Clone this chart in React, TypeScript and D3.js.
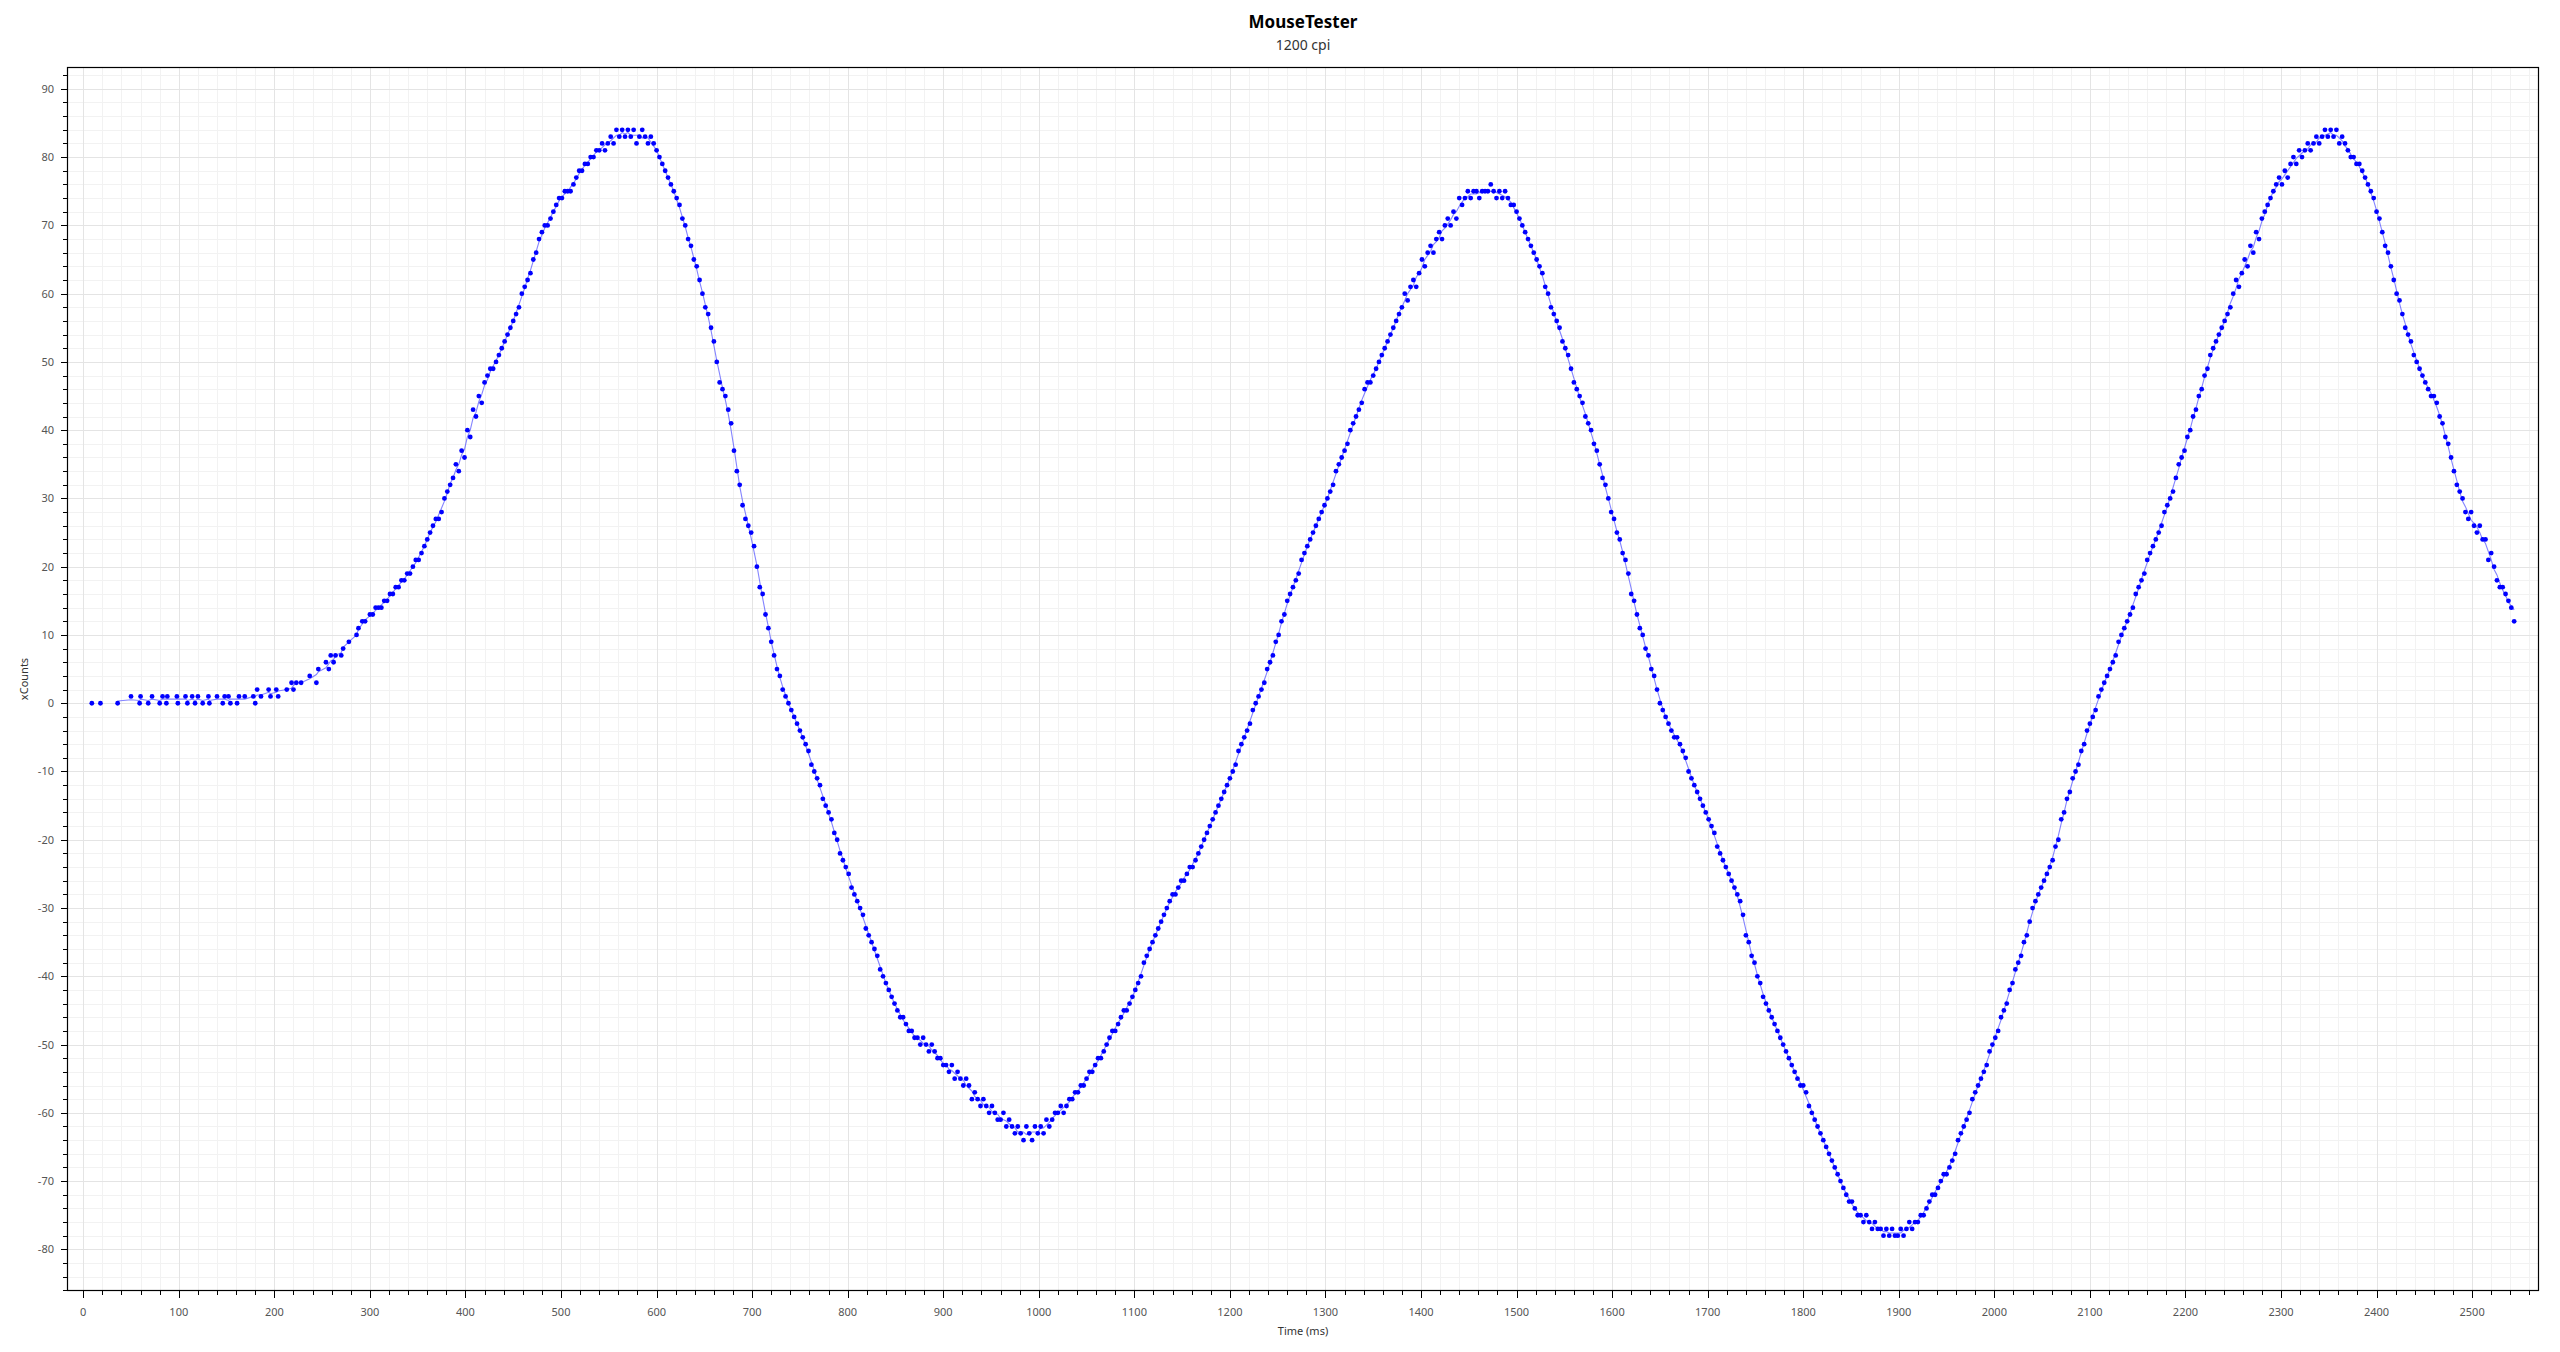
import React from "react";
import * as d3 from "d3";

const chartTitle = "MouseTester";
const chartSubtitle = "1200 cpi";
const xAxisTitle = "Time (ms)";
const yAxisTitle = "xCounts";

const xDomain = [-17, 2570];
const yDomain = [-86.1, 93.2];
const xMajorTicks = d3.range(0, 2501, 100);
const xMinorTicks = d3.range(0, 2561, 20);
const yMajorTicks = d3.range(-80, 91, 10);
const yMinorTicks = d3.range(-86, 93, 2);

// early samples (irregular timestamps, ms)
const earlyTimes = [9,18,36,50,59,60,68,72,80,83,87,88,98,99,107,109,114,117,120,125,131,132,140,146,148,152,154,161,163,169,178,180,182,186,194,196,202,204,213,218,220,223,228,237,244,246,254,257,259,262,264,270,272,278,286,288,292,295];
const earlyCounts = [0,0,0,1,0,1,0,1,0,1,0,1,1,0,1,0,1,0,1,0,1,0,1,0,1,1,0,0,1,1,1,0,2,1,2,1,2,1,2,3,2,3,3,4,3,5,6,5,7,6,7,7,8,9,10,11,12,12];

// main samples: each row starts at mainStart + 30*row ms, one sample every 3 ms
const mainStart = 300;
const rowSpan = 30;
const sampleStep = 3;
const mainCounts = [
  [13,13,14,14,14,15,15,16,16,17],
  [17,18,18,19,19,20,21,21,22,23],
  [24,25,26,27,27,28,30,31,32,33],
  [35,34,37,36,40,39,43,42,45,44],
  [47,48,49,49,50,51,52,53,54,55],
  [56,57,58,60,61,62,63,65,66,68],
  [69,70,70,71,72,73,74,74,75,75],
  [75,76,77,78,78,79,79,80,80,81],
  [81,82,81,82,83,82,84,83,84,83],
  [84,83,84,82,83,84,83,82,83,82],
  [81,80,79,78,77,76,75,74,73,71],
  [70,68,67,65,64,62,60,58,57,55],
  [53,50,47,46,45,43,41,37,34,32],
  [29,27,26,25,23,20,17,16,13,11],
  [9,7,5,4,2,1,0,-1,-2,-3],
  [-4,-5,-6,-7,-9,-10,-11,-12,-14,-15],
  [-16,-17,-19,-20,-22,-23,-24,-25,-27,-28],
  [-29,-30,-31,-33,-34,-35,-36,-37,-39,-40],
  [-41,-42,-43,-44,-45,-46,-46,-47,-48,-48],
  [-49,-49,-50,-49,-50,-51,-50,-51,-52,-52],
  [-53,-53,-54,-53,-55,-54,-55,-56,-55,-56],
  [-58,-57,-58,-59,-58,-59,-60,-59,-60,-61],
  [-61,-60,-62,-61,-62,-63,-62,-63,-64,-62],
  [-63,-64,-62,-63,-62,-63,-61,-62,-61,-60],
  [-60,-59,-60,-59,-58,-58,-57,-57,-56,-56],
  [-55,-54,-54,-53,-52,-52,-51,-50,-49,-48],
  [-48,-47,-46,-45,-45,-44,-43,-42,-41,-40],
  [-38,-37,-36,-35,-34,-33,-32,-31,-30,-29],
  [-28,-28,-27,-26,-26,-25,-24,-24,-23,-22],
  [-21,-20,-19,-18,-17,-16,-15,-14,-13,-12],
  [-11,-10,-9,-7,-6,-5,-4,-3,-1,0],
  [1,2,3,5,6,7,9,10,12,13],
  [15,16,17,18,19,21,22,23,24,25],
  [26,27,28,29,30,31,32,34,35,36],
  [37,38,40,41,42,43,44,46,47,47],
  [48,49,50,51,52,53,54,55,56,57],
  [58,60,59,61,62,61,63,65,64,66],
  [67,66,68,69,68,70,71,70,72,71],
  [74,73,74,75,74,75,75,74,75,75],
  [75,76,75,74,75,74,75,74,73,73],
  [72,71,70,69,68,67,66,65,64,63],
  [61,60,58,57,56,55,53,52,51,49],
  [47,46,45,44,42,41,40,38,37,35],
  [33,32,30,28,27,25,24,22,21,19],
  [16,15,13,11,10,8,7,5,4,2],
  [0,-1,-2,-3,-4,-5,-5,-6,-7,-8],
  [-10,-11,-12,-13,-14,-15,-16,-17,-18,-19],
  [-21,-22,-23,-24,-25,-26,-27,-28,-29,-31],
  [-34,-35,-37,-38,-40,-41,-43,-44,-45,-46],
  [-47,-48,-49,-50,-51,-52,-53,-54,-55,-56],
  [-56,-57,-59,-60,-61,-62,-63,-64,-65,-66],
  [-67,-68,-69,-70,-71,-72,-73,-73,-74,-75],
  [-75,-76,-75,-76,-77,-76,-77,-77,-78,-77],
  [-78,-77,-78,-78,-77,-78,-77,-76,-77,-76],
  [-76,-75,-75,-74,-73,-72,-72,-71,-70,-69],
  [-69,-68,-67,-66,-64,-63,-62,-61,-60,-58],
  [-57,-56,-55,-54,-53,-51,-50,-49,-48,-46],
  [-45,-44,-42,-41,-39,-38,-37,-35,-34,-32],
  [-30,-29,-28,-27,-26,-25,-24,-23,-21,-20],
  [-17,-16,-14,-13,-11,-10,-9,-7,-6,-4],
  [-3,-2,-1,1,2,3,4,5,6,7],
  [9,10,11,12,13,14,16,17,18,19],
  [21,22,23,24,25,26,28,29,30,31],
  [33,35,36,37,39,40,42,43,45,46],
  [48,49,51,52,53,54,55,56,57,58],
  [60,62,61,63,65,64,67,66,69,68],
  [71,72,73,74,75,76,77,76,78,77],
  [79,80,79,81,80,81,82,81,82,83],
  [82,83,84,83,84,83,84,82,83,82],
  [81,80,80,79,79,78,77,76,75,74],
  [72,71,69,67,66,64,62,60,59,57],
  [55,54,53,51,50,49,48,47,46,45],
  [45,44,42,41,39,38,36,34,32,31],
  [30,28,27,28,26,25,26,24,24,21],
  [22,20,18,17,17,16,15,14,12],
];

type Pt = { t: number; v: number };

function buildPoints(): Pt[] {
  const pts: Pt[] = earlyTimes.map((t, i) => ({ t, v: earlyCounts[i] }));
  mainCounts.forEach((row, r) => {
    row.forEach((v, j) => {
      pts.push({ t: mainStart + r * rowSpan + j * sampleStep, v });
    });
  });
  return pts;
}

export default function App() {
  const W = 2560;
  const H = 1352;
  const left = 67, right = 2539, top = 67, bottom = 1291;
  const x = d3.scaleLinear().domain(xDomain).range([left, right]);
  const y = d3.scaleLinear().domain(yDomain).range([bottom, top]);
  const pts = buildPoints();

  // thin trend line: short centred moving average through the samples (from the 3rd sample)
  const linePts = pts.slice(2);
  const smooth = linePts.map((p, i) => {
    const a = Math.max(0, i - 2);
    const b = Math.min(linePts.length - 1, i + 2);
    const m = d3.mean(linePts.slice(a, b + 1), (d) => d.v) as number;
    return { t: p.t, v: m };
  });
  const lineGen = d3
    .line<Pt>()
    .x((d) => x(d.t))
    .y((d) => y(d.v));

  const font = "'Noto Sans', 'Open Sans', sans-serif";

  return (
    <svg
      width={W}
      height={H}
      style={{ position: "absolute", left: 0, top: 0, background: "#fff" }}
      fontFamily={font}
    >
      <rect x={0} y={0} width={W} height={H} fill="#fff" />
      {/* minor grid */}
      <g stroke="#f2f2f2" strokeWidth={1}>
        {xMinorTicks.filter((t) => t % 100 !== 0).map((t) => (
          <line key={"xm" + t} x1={Math.round(x(t)) + 0.5} x2={Math.round(x(t)) + 0.5} y1={top} y2={bottom} />
        ))}
        {yMinorTicks.filter((t) => t % 10 !== 0).map((t) => (
          <line key={"ym" + t} y1={Math.round(y(t)) + 0.5} y2={Math.round(y(t)) + 0.5} x1={left} x2={right} />
        ))}
      </g>
      {/* major grid */}
      <g stroke="#e4e4e4" strokeWidth={1}>
        {xMajorTicks.map((t) => (
          <line key={"xM" + t} x1={Math.round(x(t)) + 0.5} x2={Math.round(x(t)) + 0.5} y1={top} y2={bottom} />
        ))}
        {yMajorTicks.map((t) => (
          <line key={"yM" + t} y1={Math.round(y(t)) + 0.5} y2={Math.round(y(t)) + 0.5} x1={left} x2={right} />
        ))}
      </g>

      {/* data line */}
      <path d={lineGen(smooth) || ""} fill="none" stroke="#5050ff" strokeOpacity={0.7} strokeWidth={1.1} />
      {/* data points */}
      <g fill="#0000ff">
        {pts.map((p, i) => (
          <circle key={i} cx={x(p.t)} cy={y(p.v)} r={2.4} />
        ))}
      </g>

      {/* frame */}
      <rect x={left + 0.5} y={top + 0.5} width={right - left - 1} height={bottom - top - 1} fill="none" stroke="#000" strokeWidth={1.2} />

      {/* ticks */}
      <g stroke="#000" strokeWidth={1}>
        {xMinorTicks.map((t) => (
          <line key={"xt" + t} x1={Math.round(x(t)) + 0.5} x2={Math.round(x(t)) + 0.5} y1={bottom} y2={bottom + (t % 100 === 0 ? 7 : 4)} />
        ))}
        {yMinorTicks.map((t) => (
          <line key={"yt" + t} y1={Math.round(y(t)) + 0.5} y2={Math.round(y(t)) + 0.5} x1={left} x2={left - (t % 10 === 0 ? 6 : 4)} />
        ))}
      </g>
      <g fontSize={11} fill="#555">
        {xMajorTicks.map((t) => (
          <text key={"xl" + t} x={x(t)} y={bottom + 25} textAnchor="middle">
            {t}
          </text>
        ))}
        {yMajorTicks.map((t) => (
          <text key={"yl" + t} x={left - 13} y={y(t) + 4} textAnchor="end">
            {t}
          </text>
        ))}
      </g>

      {/* titles */}
      <text x={(left + right) / 2} y={28} textAnchor="middle" fontSize={17} fontWeight="bold" fill="#000">
        {chartTitle}
      </text>
      <text x={(left + right) / 2} y={50} textAnchor="middle" fontSize={14} fill="#333">
        {chartSubtitle}
      </text>
      <text x={(left + right) / 2} y={1335} textAnchor="middle" fontSize={11} fill="#333">
        {xAxisTitle}
      </text>
      <text
        transform={`translate(${28},${(top + bottom) / 2}) rotate(-90)`}
        textAnchor="middle"
        fontSize={11}
        fill="#333"
      >
        {yAxisTitle}
      </text>
    </svg>
  );
}
